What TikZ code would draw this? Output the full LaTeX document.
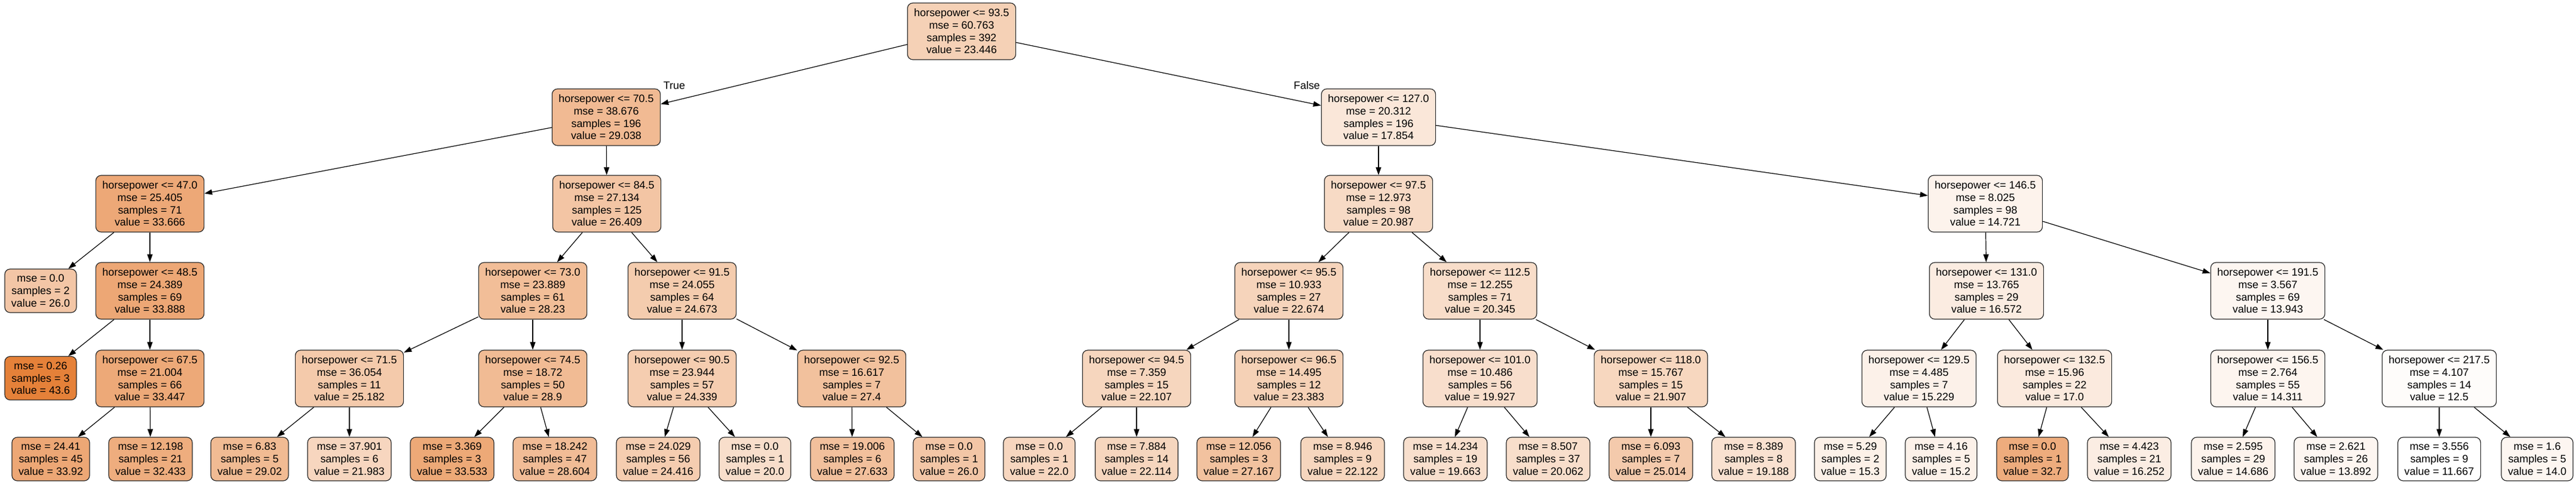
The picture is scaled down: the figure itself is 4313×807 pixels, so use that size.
\documentclass[tikz,border=0pt]{standalone}
\usepackage{fontspec}
\setmainfont{Liberation Sans}
\usetikzlibrary{arrows.meta}
\definecolor{tcol}{RGB}{229,129,57}
\tikzset{
  box/.style={draw=black!85, line width=1.2pt, rounded corners=9pt, align=center,
    inner xsep=11pt, inner ysep=0pt, font=\fontsize{17.9}{20.7}\selectfont},
  dnode/.style={box, minimum height=95pt, fill=tcol!#1!white},
  lnode/.style={box, minimum height=73pt, fill=tcol!#1!white},
  conn/.style={line width=1.2pt, -{Triangle[length=13pt,width=9pt]}},
  elabel/.style={font=\fontsize{17.9}{20.7}\selectfont, anchor=base, inner sep=0pt}
}
\begin{document}
\begin{tikzpicture}[x=1pt,y=-1pt]
\useasboundingbox (0,0) rectangle (4313,807);
% level 0
\node[dnode=36.89] (n0) at (1610,52.5) {horsepower <= 93.5\\mse = 60.763\\samples = 392\\value = 23.446};
% level 1
\node[dnode=54.40] (n1) at (1015,196.5) {horsepower <= 70.5\\mse = 38.676\\samples = 196\\value = 29.038};
\node[dnode=19.37] (n2) at (2308,196.5) {horsepower <= 127.0\\mse = 20.312\\samples = 196\\value = 17.854};
% level 2
\node[dnode=68.89] (n3) at (251,341.5) {horsepower <= 47.0\\mse = 25.405\\samples = 71\\value = 33.666};
\node[dnode=46.17] (n4) at (1016,341.5) {horsepower <= 84.5\\mse = 27.134\\samples = 125\\value = 26.409};
\node[dnode=29.19] (n5) at (2308,341.5) {horsepower <= 97.5\\mse = 12.973\\samples = 98\\value = 20.987};
\node[dnode=9.56] (n6) at (3324,341.5) {horsepower <= 146.5\\mse = 8.025\\samples = 98\\value = 14.721};
% level 3
\node[lnode=44.88] (n7) at (68,487.5) {mse = 0.0\\samples = 2\\value = 26.0};
\node[dnode=69.59] (n8) at (251,487.5) {horsepower <= 48.5\\mse = 24.389\\samples = 69\\value = 33.888};
\node[dnode=51.87] (n9) at (892,487.5) {horsepower <= 73.0\\mse = 23.889\\samples = 61\\value = 28.23};
\node[dnode=40.73] (n10) at (1142,487.5) {horsepower <= 91.5\\mse = 24.055\\samples = 64\\value = 24.673};
\node[dnode=34.47] (n11) at (2158,487.5) {horsepower <= 95.5\\mse = 10.933\\samples = 27\\value = 22.674};
\node[dnode=27.18] (n12) at (2478,487.5) {horsepower <= 112.5\\mse = 12.255\\samples = 71\\value = 20.345};
\node[dnode=15.36] (n13) at (3326,487.5) {horsepower <= 131.0\\mse = 13.765\\samples = 29\\value = 16.572};
\node[dnode=7.13] (n14) at (3797,487.5) {horsepower <= 191.5\\mse = 3.567\\samples = 69\\value = 13.943};
% level 4
\node[lnode=100] (n15) at (68,634) {mse = 0.26\\samples = 3\\value = 43.6};
\node[dnode=68.21] (n16) at (251,634.5) {horsepower <= 67.5\\mse = 21.004\\samples = 66\\value = 33.447};
\node[dnode=42.32] (n17) at (585,634.5) {horsepower <= 71.5\\mse = 36.054\\samples = 11\\value = 25.182};
\node[dnode=53.97] (n18) at (892,634.5) {horsepower <= 74.5\\mse = 18.72\\samples = 50\\value = 28.9};
\node[dnode=39.68] (n19) at (1142,634.5) {horsepower <= 90.5\\mse = 23.944\\samples = 57\\value = 24.339};
\node[dnode=49.27] (n20) at (1426,634.5) {horsepower <= 92.5\\mse = 16.617\\samples = 7\\value = 27.4};
\node[dnode=32.69] (n21) at (1903,634.5) {horsepower <= 94.5\\mse = 7.359\\samples = 15\\value = 22.107};
\node[dnode=36.69] (n22) at (2158,634.5) {horsepower <= 96.5\\mse = 14.495\\samples = 12\\value = 23.383};
\node[dnode=25.87] (n23) at (2478,634.5) {horsepower <= 101.0\\mse = 10.486\\samples = 56\\value = 19.927};
\node[dnode=32.07] (n24) at (2764,634.5) {horsepower <= 118.0\\mse = 15.767\\samples = 15\\value = 21.907};
\node[dnode=11.15] (n25) at (3213,634.5) {horsepower <= 129.5\\mse = 4.485\\samples = 7\\value = 15.229};
\node[dnode=16.70] (n26) at (3440,634.5) {horsepower <= 132.5\\mse = 15.96\\samples = 22\\value = 17.0};
\node[dnode=8.28] (n27) at (3797,634.5) {horsepower <= 156.5\\mse = 2.764\\samples = 55\\value = 14.311};
\node[dnode=2.61] (n28) at (4084,634.5) {horsepower <= 217.5\\mse = 4.107\\samples = 14\\value = 12.5};
% level 5
\node[lnode=69.69] (l1) at (85,769.5) {mse = 24.41\\samples = 45\\value = 33.92};
\node[lnode=65.03] (l2) at (252,769.5) {mse = 12.198\\samples = 21\\value = 32.433};
\node[lnode=54.34] (l3) at (418,769.5) {mse = 6.83\\samples = 5\\value = 29.02};
\node[lnode=32.31] (l4) at (585,769.5) {mse = 37.901\\samples = 6\\value = 21.983};
\node[lnode=68.48] (l5) at (757,769.5) {mse = 3.369\\samples = 3\\value = 33.533};
\node[lnode=53.04] (l6) at (929,769.5) {mse = 18.242\\samples = 47\\value = 28.604};
\node[lnode=39.92] (l7) at (1102,769.5) {mse = 24.029\\samples = 56\\value = 24.416};
\node[lnode=26.10] (l8) at (1264,769.5) {mse = 0.0\\samples = 1\\value = 20.0};
\node[lnode=50.00] (l9) at (1427,769.5) {mse = 19.006\\samples = 6\\value = 27.633};
\node[lnode=44.88] (l10) at (1589,769.5) {mse = 0.0\\samples = 1\\value = 26.0};
\node[lnode=32.36] (l11) at (1740,769.5) {mse = 0.0\\samples = 1\\value = 22.0};
\node[lnode=32.72] (l12) at (1903,769.5) {mse = 7.884\\samples = 14\\value = 22.114};
\node[lnode=48.54] (l13) at (2074,769.5) {mse = 12.056\\samples = 3\\value = 27.167};
\node[lnode=32.74] (l14) at (2248,769.5) {mse = 8.946\\samples = 9\\value = 22.122};
\node[lnode=25.04] (l15) at (2420,769.5) {mse = 14.234\\samples = 19\\value = 19.663};
\node[lnode=26.29] (l16) at (2592,769.5) {mse = 8.507\\samples = 37\\value = 20.062};
\node[lnode=41.80] (l17) at (2764,769.5) {mse = 6.093\\samples = 7\\value = 25.014};
\node[lnode=23.55] (l18) at (2936,769.5) {mse = 8.389\\samples = 8\\value = 19.188};
\node[lnode=11.38] (l19) at (3098,769.5) {mse = 5.29\\samples = 2\\value = 15.3};
\node[lnode=11.06] (l20) at (3250,769.5) {mse = 4.16\\samples = 5\\value = 15.2};
\node[lnode=65.87] (l21) at (3403,769.5) {mse = 0.0\\samples = 1\\value = 32.7};
\node[lnode=14.36] (l22) at (3565,769.5) {mse = 4.423\\samples = 21\\value = 16.252};
\node[lnode=9.45] (l23) at (3739,769.5) {mse = 2.595\\samples = 29\\value = 14.686};
\node[lnode=6.97] (l24) at (3911,769.5) {mse = 2.621\\samples = 26\\value = 13.892};
\node[lnode=0] (l25) at (4084,769.5) {mse = 3.556\\samples = 9\\value = 11.667};
\node[lnode=7.31] (l26) at (4248,769.5) {mse = 1.6\\samples = 5\\value = 14.0};
% edges
\draw[conn] (n0) -- (n1);
\draw[conn] (n0) -- (n2);
\draw[conn] (n1) -- (n3);
\draw[conn] (n1) -- (n4);
\draw[conn] (n2) -- (n5);
\draw[conn] (n2) -- (n6);
\draw[conn] (n3) -- (n7);
\draw[conn] (n3) -- (n8);
\draw[conn] (n4) -- (n9);
\draw[conn] (n4) -- (n10);
\draw[conn] (n5) -- (n11);
\draw[conn] (n5) -- (n12);
\draw[conn] (n6) -- (n13);
\draw[conn] (n6) -- (n14);
\draw[conn] (n8) -- (n15);
\draw[conn] (n8) -- (n16);
\draw[conn] (n9) -- (n17);
\draw[conn] (n9) -- (n18);
\draw[conn] (n10) -- (n19);
\draw[conn] (n10) -- (n20);
\draw[conn] (n11) -- (n21);
\draw[conn] (n11) -- (n22);
\draw[conn] (n12) -- (n23);
\draw[conn] (n12) -- (n24);
\draw[conn] (n13) -- (n25);
\draw[conn] (n13) -- (n26);
\draw[conn] (n14) -- (n27);
\draw[conn] (n14) -- (n28);
\draw[conn] (n16) -- (l1);
\draw[conn] (n16) -- (l2);
\draw[conn] (n17) -- (l3);
\draw[conn] (n17) -- (l4);
\draw[conn] (n18) -- (l5);
\draw[conn] (n18) -- (l6);
\draw[conn] (n19) -- (l7);
\draw[conn] (n19) -- (l8);
\draw[conn] (n20) -- (l9);
\draw[conn] (n20) -- (l10);
\draw[conn] (n21) -- (l11);
\draw[conn] (n21) -- (l12);
\draw[conn] (n22) -- (l13);
\draw[conn] (n22) -- (l14);
\draw[conn] (n23) -- (l15);
\draw[conn] (n23) -- (l16);
\draw[conn] (n24) -- (l17);
\draw[conn] (n24) -- (l18);
\draw[conn] (n25) -- (l19);
\draw[conn] (n25) -- (l20);
\draw[conn] (n26) -- (l21);
\draw[conn] (n26) -- (l22);
\draw[conn] (n27) -- (l23);
\draw[conn] (n27) -- (l24);
\draw[conn] (n28) -- (l25);
\draw[conn] (n28) -- (l26);
% branch labels
\node[elabel] (tlab) at (1129,149) {True};
\node[elabel] (flab) at (2188,149) {False};
\end{tikzpicture}
\end{document}
